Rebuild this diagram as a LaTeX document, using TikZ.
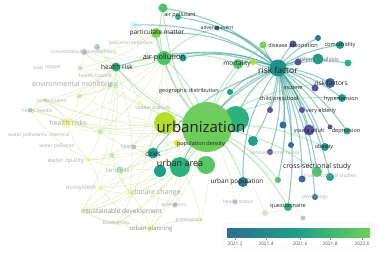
\documentclass[tikz,border=0pt]{standalone}
\usepackage{fontspec}
\setmainfont{Open Sans}
\usetikzlibrary{backgrounds}
\definecolor{cUrb}{HTML}{6CCD5A}
\definecolor{cYG}{HTML}{B5DE2B}
\definecolor{cTG}{HTML}{2DB27D}
\definecolor{cTeal}{HTML}{21908D}
\definecolor{cTeal2}{HTML}{1F9E89}
\definecolor{cGreen}{HTML}{4EC36B}
\definecolor{cLG}{HTML}{7AD151}
\definecolor{cPur}{HTML}{5B4FA0}
\definecolor{cBlue}{HTML}{3B67A0}
\definecolor{cBT}{HTML}{2A788E}
\definecolor{cYel}{HTML}{E5E419}
\definecolor{cEdge}{HTML}{2A9D8F}
\definecolor{cEdgeG}{HTML}{5CC863}
\definecolor{cWeb}{HTML}{CFE6A0}
\definecolor{vA}{HTML}{3B4C8C}
\definecolor{vB}{HTML}{2C6E8E}
\definecolor{vC}{HTML}{20A087}
\definecolor{vD}{HTML}{6ECE58}
\definecolor{vE}{HTML}{F2E51D}
\pgfdeclarehorizontalshading{vir}{100bp}{color(0bp)=(vA); color(25bp)=(vB); color(50bp)=(vC); color(75bp)=(vD); color(100bp)=(vE)}
\begin{document}
\begin{tikzpicture}[x=1pt,y=-1pt,
  dot/.style={circle,inner sep=0pt,minimum size=#1,draw=none},
  fdot/.style={circle,inner sep=0pt,minimum size=#1,draw=none,fill opacity=0.35},
  lbl/.style={inner sep=0pt,text=black!88,font=\fontsize{5.5}{6}\selectfont},
  lblm/.style={inner sep=0pt,text=black!88,font=\fontsize{6.5}{7}\selectfont},
  fad/.style={inner sep=0pt,text=black!32,font=\fontsize{5}{6}\selectfont},
  fadm/.style={inner sep=0pt,text=black!35,font=\fontsize{7}{8}\selectfont},
  edgeT/.style={draw=cEdge,line width=1.1pt,opacity=0.5},
  edgeG/.style={draw=cEdgeG,line width=1pt,opacity=0.4},
  edgeW/.style={draw=cWeb,line width=0.45pt,opacity=0.65}]
\begin{scope}[on background layer]
\fill[white] (0,0) rectangle (379,256);
\end{scope}
\useasboundingbox (0,0) rectangle (379,256);
% faded nodes
\node[fdot=8,fill=cyan!40] (f17) at (134,25) {};
\node[fdot=5,fill=yellow!70] (f18) at (140,62) {};
\node[fdot=6,fill=cPur] (f1) at (84,52) {};
\node[fdot=6,fill=cBlue] (f2) at (97,47) {};
\node[fdot=10,fill=yellow!80] (f3) at (67,123) {};
\node[fdot=5,fill=cLG] (f4) at (80,68) {};
\node[fdot=4,fill=cLG] (f5) at (45,100) {};
\node[fdot=5,fill=cLG] (f6) at (79,96) {};
\node[fdot=5,fill=yellow!80] (f7) at (100,188) {};
\node[fdot=5,fill=cLG] (f8) at (83,211) {};
\node[fdot=7,fill=cTG] (f9) at (120,170) {};
\node[fdot=5,fill=cPur] (f10) at (175,205) {};
\node[fdot=5,fill=yellow!80] (f11) at (200,221) {};
\node[fdot=5,fill=yellow!80] (f12) at (150,229) {};
\node[fdot=5,fill=cBlue] (f13) at (235,202) {};
\node[fdot=5,fill=cPur] (f14) at (134,147) {};
\node[fdot=5,fill=yellow!80] (f15) at (140,103) {};
\node[fdot=5,fill=cTG] (f16) at (214,110) {};
\node[fdot=5,fill=cTG] (f19) at (110,85) {};
\node[fdot=5,fill=yellow!80] (f20) at (88,160) {};
\node[fdot=6,fill=yellow!80] (f21) at (130,193) {};
\node[fdot=5,fill=yellow!80] (f22) at (118,223) {};
\node[fdot=6,fill=cLG] (f23) at (265,213) {};
\node[fdot=5,fill=cPur] (f24) at (303,218) {};
\node[fdot=5,fill=cLG] (f25) at (100,132) {};
\node[fdot=5,fill=cTG] (f26) at (30,110) {};
\node[fdot=5,fill=cLG] (f27) at (112,155) {};
% main nodes
\node[dot=26,fill=cTG] (urbT) at (236,119) {};
\node[dot=50,fill=cUrb] (urb) at (207,127) {};
\node[dot=22,fill=cYG] (urbY) at (165,123) {};
\node[dot=20,fill=cTG] (ua) at (180,167) {};
\node[dot=18,fill=cGreen!80!cLG] (ua2) at (206,165) {};
\node[dot=12,fill=cTeal2] (ua3) at (160,171) {};
\node[dot=11,fill=cTeal2] (cit) at (153,153) {};
\node[dot=6,fill=cYel] (pd) at (177,143) {};
\node[dot=10,fill=cBT] (up) at (243,182) {};
\node[dot=17,fill=cTeal] (rf) at (278,68) {};
\node[dot=7,fill=cLG] (da) at (263,45) {};
\node[dot=7,fill=cPur] (daP) at (293,44) {};
\node[dot=8,fill=cTeal2] (com) at (340,45) {};
\node[dot=11,fill=cTeal2] (coh) at (318,59) {};
\node[dot=7,fill=cPur] (cohP) at (298,62) {};
\node[dot=7,fill=cTG] (coh2) at (348,63) {};
\node[dot=6,fill=cBT] (cohB) at (318,38) {};
\node[dot=10,fill=cBlue] (rfs) at (330,83) {};
\node[dot=6,fill=cYG] (yg) at (253,62) {};
\node[dot=7,fill=cPur] (inc) at (315,88) {};
\node[dot=8,fill=cTeal2] (hyp) at (342,98) {};
\node[dot=6,fill=cPur] (ve1) at (270,110) {};
\node[dot=6,fill=cPur] (ve2) at (302,110) {};
\node[dot=11,fill=cPur] (ya) at (309,130) {};
\node[dot=7,fill=cBlue] (yaB) at (283,125) {};
\node[dot=5,fill=cPur] (dep) at (330,127) {};
\node[dot=7,fill=cTG] (depT) at (347,131) {};
\node[dot=8,fill=cTeal2] (ob) at (325,147) {};
\node[dot=10,fill=cTeal2] (se1) at (253,141) {};
\node[dot=6,fill=cPur] (se2) at (270,152) {};
\node[dot=6,fill=cBlue] (se3) at (291,145) {};
\node[dot=10,fill=cGreen] (css) at (317,172) {};
\node[dot=8,fill=cTeal2] (css2) at (330,177) {};
\node[dot=7,fill=cBlue] (css3) at (302,179) {};
\node[dot=6,fill=cGreen] (css4) at (278,180) {};
\node[dot=8,fill=cTG] (que) at (288,207) {};
\node[dot=6,fill=cBlue] (psy) at (315,197) {};
\node[dot=10,fill=cGreen] (mort) at (238,64) {};
\node[dot=5,fill=cBT] (ae) at (217,28) {};
\node[dot=9,fill=cGreen] (ap1) at (163,8) {};
\node[dot=6,fill=cTG] (ap2) at (178,17) {};
\node[dot=10,fill=cLG] (pm) at (156,33) {};
\node[dot=14,fill=cGreen] (apo) at (164,58) {};
\node[dot=7,fill=cTeal2] (apoT) at (183,58) {};
\node[dot=9,fill=cTG] (hr) at (116,67) {};
\node[dot=6,fill=cTeal2] (gd) at (230,92) {};
% edges
\begin{scope}[on background layer]
\foreach \a/\b in {f1/urb,f2/urb,f3/urb,f4/urb,f5/urb,f6/urb,f7/urb,f8/urb,f9/urb,f10/urb,f11/urb,f12/urb,f13/urb,f14/urb,f15/urb,f19/urb,f20/urb,f21/urb,f22/urb,f25/urb,f26/urb,f27/urb,
  f1/hr,f2/hr,f4/hr,f5/hr,f6/hr,f19/hr,f26/hr,f3/hr,f1/apo,f2/apo,f17/apo,f3/f5,f3/f6,f3/f26,f3/f20,f3/f25,f7/f8,f7/f21,f8/f22,f8/f21,f12/f21,f12/f22,f10/f21,f11/f12,f7/f20,f20/f27,f9/f27,f9/f21,f21/ua,f7/ua,f8/ua,f12/ua,f22/ua,f20/ua,f25/apo,f6/apo,f4/f1,f5/f26,f23/urb,f24/urb,f13/up,f23/que,f11/ua,f10/ua,f14/apo,f15/hr,f16/rf,f3/apo,f20/hr,f7/hr,f8/hr,f21/hr,f12/apo,f22/apo,
  f26/urbY,f5/urbY,f3/urbY,f20/urbY,f7/urbY,f8/urbY,f25/cit,f9/cit,f4/pm,f1/pm,f6/f19,f19/f25,f27/f21,f8/f12,f7/f12,f26/f20,f5/f25}
  \draw[edgeW] (\a.center) to[bend right=12] (\b.center);
\foreach \x in {ap1,ap2,pm,apo,apoT,hr,urb,urbT,gd,ua,cit,up,mort,ae,f17}
  \draw[edgeT] (rf.center) to[bend right=18] (\x.center);
\foreach \x in {da,daP,com,coh,cohP,coh2,cohB,rfs,inc,hyp,ve1,ve2,ya,yaB,dep,depT,ob,se1,se2,se3,css,css2,css3,css4,que,psy,yg}
  \draw[edgeT] (rf.center) to[bend left=12] (\x.center);
\foreach \x in {ap1,pm,apo,hr,mort,da,up,css,que,ua,cit,css4,ob,hyp,rfs}
  \draw[edgeG] (urb.center) to[bend left=15] (\x.center);
\foreach \x in {ap1,pm,hr,mort,ae,urb}
  \draw[edgeG] (apo.center) to[bend left=15] (\x.center);
\end{scope}
% faded labels
\node[fad] (l1) at (83,52) {concentration (composition)};
\node[fad] (l2) at (131,43) {pollution exposure};
\node[fad] (l3) at (38,68) {lead};
\node[fad] (l4) at (53,68) {copper};
\node[fad] (l5) at (95,76) {health hazard};
\node[fadm] (l6) at (75,85) {environmental monitoring};
\node[fad] (l7) at (52,101) {soil pollution};
\node[fad] (l8) at (37,111) {heavy metals};
\node[fadm] (l9) at (68,123) {health risks};
\node[fad] (l10) at (39,135) {water pollutants, chemical};
\node[fad] (l11) at (57,146) {water pollution};
\node[fad,font=\fontsize{6}{7}\selectfont] (l12) at (66,161) {water quality};
\node[fad,font=\fontsize{6}{7}\selectfont] (l13) at (118,170) {land use};
\node[fad,font=\fontsize{6}{7}\selectfont] (l14) at (81,188) {ecosystem};
\node[fadm,text=black!45,font=\fontsize{6.5}{7}\selectfont] (l15) at (124,212) {sustainable development};
\node[fad] (l16) at (116,223) {biodiversity};
\node[fad] (l17) at (174,205) {economics};
\node[fad] (l18) at (189,221) {greenspace};
\node[fad,text=black!45,font=\fontsize{6}{7}\selectfont] (l19) at (151,229) {urban planning};
\node[fad] (l20) at (238,202) {health status};
\node[fad] (l21) at (315,197) {psychology};
\node[fad] (l22) at (153,108) {spatial analysis};
\node[fad] (l23) at (214,110) {united states};
\node[fad] (l24) at (128,147) {health};
\node[fad] (l25) at (275,153) {socioeconomic factor};
\node[fad] (l26) at (330,176) {cross-sectional studies};
\node[fadm] (l27) at (156,193) {climate change};
% labels
\node[lbl] (t1) at (180,15) {air pollutant};
\node[lblm] (t2) at (157,33) {particulate matter};
\node[lbl,font=\fontsize{5}{6}\selectfont] (t3) at (217,28) {adverse event};
\node[lblm] (t4) at (117,67) {health risk};
\node[lbl,font=\fontsize{7.5}{8}\selectfont] (t5) at (164,58) {air pollution};
\node[lblm] (t6) at (237,64) {mortality};
\node[lbl] (t7) at (189,91) {geographic distribution};
\node[lbl,font=\fontsize{8.5}{9}\selectfont] (t8) at (278,70) {risk factor};
\node[lbl] (t9) at (293,45) {disease association};
\node[lbl] (t10) at (340,45) {comorbidity};
\node[lbl,text=black!55,font=\fontsize{6}{7}\selectfont] (t11) at (318,60) {cohort analysis};
\node[lblm] (t12) at (331,83) {risk factors};
\node[lbl] (t13) at (293,88) {income};
\node[lbl] (t14) at (279,99) {child preschool};
\node[lbl] (t15) at (341,99) {hypertension};
\node[lbl] (t16) at (321,111) {very elderly};
\node[lbl] (t17) at (309,131) {young adult};
\node[lbl] (t18) at (346,131) {depression};
\node[lbl] (t19) at (324,147) {obesity};
\node[lbl,font=\fontsize{7}{8}\selectfont] (t20) at (317,167) {cross-sectional study};
\node[lbl] (t21) at (288,206) {questionnaire};
\node[lbl,font=\fontsize{6.5}{7}\selectfont] (t22) at (237,182) {urban population};
\node[lbl,font=\fontsize{15}{16}\selectfont] (t23) at (201,127) {urbanization};
\node[lbl] (t24) at (201,144) {population density};
\node[lblm] (t25) at (153,154) {cities};
\node[lbl,font=\fontsize{9}{10}\selectfont] (t26) at (180,163) {urban area};
% legend
\node[draw=black!12,rounded corners=3pt,minimum width=150pt,minimum height=25pt,inner sep=0pt] (leg) at (298,235.5) {};
\shade[shading=vir] (227,228) rectangle (370,237);
\foreach \xx/\v in {235/2021.2,266/2021.4,300/2021.6,330/2021.8,362/2022.0}{
  \draw[black!40,line width=0.3pt] (\xx,237) -- (\xx,240);
  \node[inner sep=0pt,text=black!65,font=\fontsize{4.8}{5}\selectfont] at (\xx,244) {\v};
}
\end{tikzpicture}
\end{document}
